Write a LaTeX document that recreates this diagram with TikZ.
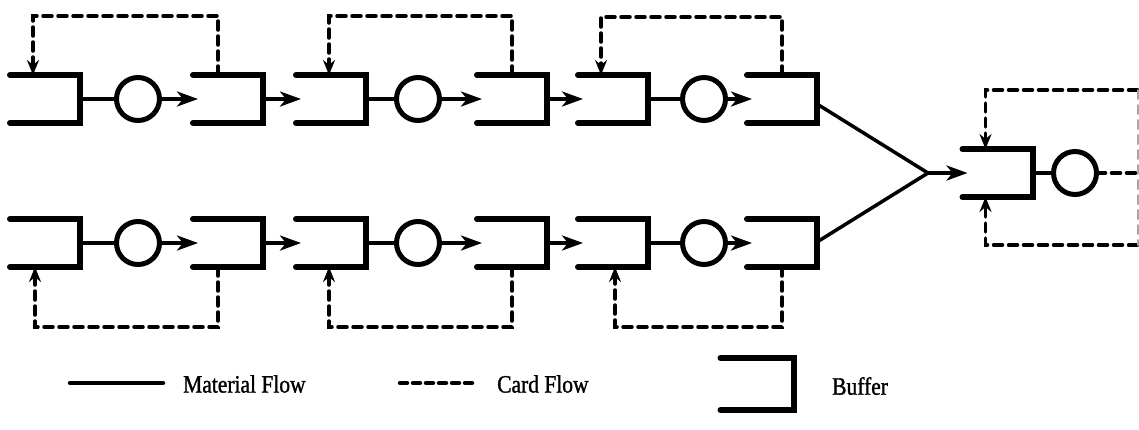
\documentclass[tikz,border=0pt]{standalone}
\usepackage{fontspec}
\setmainfont{Liberation Serif}
\newfontfamily\legfont[FakeBold=1.2,FakeStretch=0.86]{Liberation Serif}
\usetikzlibrary{arrows.meta,calc}
\begin{document}
\begin{tikzpicture}[x=1pt,y=-1pt,
  bufnode/.style={minimum width=70pt,minimum height=48pt,inner sep=0pt,outer sep=0pt},
  buf/.style={line width=6pt,line cap=round,line join=miter},
  machine/.style={circle,draw,line width=5pt,minimum size=43pt,inner sep=0pt,outer sep=0pt},
  link/.style={line width=3.2pt},
  mat/.style={line width=3.5pt,-{Stealth[length=21pt,width=15pt,inset=6pt]}},
  card/.style={line width=3.5pt,dash pattern=on 9pt off 6pt,line cap=round},
  cardarrow/.style={card,-{Stealth[length=15pt,width=12pt,inset=5pt]}},
  legtext/.style={anchor=west,inner sep=0pt,font=\legfont\fontsize{25}{29}\selectfont}
]
\useasboundingbox (0,0) rectangle (1139,429);

% ---------- buffers and machines ----------
\foreach \r/\y in {T/99,B/243}{
  \node[bufnode] (\r11) at (45,\y) {};
  \node[machine] (\r C1) at (138,\y) {};
  \node[bufnode] (\r12) at (228,\y) {};
  \node[bufnode] (\r21) at (331,\y) {};
  \node[machine] (\r C2) at (418,\y) {};
  \node[bufnode] (\r22) at (512,\y) {};
  \node[bufnode] (\r31) at (613,\y) {};
  \node[machine] (\r C3) at (704,\y) {};
  \node[bufnode] (\r32) at (782,\y) {};
  \foreach \b in {11,12,21,22,31,32}{
    \draw[buf] (\r\b.north west) -- (\r\b.north east) -- (\r\b.south east) -- (\r\b.south west);
  }
  \foreach \u in {1,2,3}{
    \draw[link] (\r\u1.east) -- (\r C\u.west);
    \draw[mat] (\r C\u.east) -- ([xshift=5pt]\r\u2.west);
  }
  \draw[mat] (\r12.east) -- ([xshift=5pt]\r21.west);
  \draw[mat] (\r22.east) -- ([xshift=5pt]\r31.west);
}

% final stage
\node[bufnode] (F) at (997.5,173) {};
\node[machine] (FC) at (1075,173) {};
\draw[buf] (F.north west) -- (F.north east) -- (F.south east) -- (F.south west);
\draw[link] (F.east) -- (FC.west);
\coordinate (M) at (928,173);
\draw[line width=3.5pt] ([yshift=-5pt]T32.east) -- (M);
\draw[line width=3.5pt] ([yshift=1pt]B32.east) -- (M);
\draw[mat] (M) -- ([xshift=5pt]F.west);

% ---------- card flow, top row ----------
\draw[cardarrow] ([xshift=25pt]T12.north west) -- ++(0,-59) -| ([xshift=23pt]T11.north west);
\draw[cardarrow] ([xshift=35pt]T22.north west) -- ++(0,-59) -| ([xshift=33pt]T21.north west);
\draw[cardarrow] ([xshift=35pt]T32.north west) -- ++(0,-58) -| ([xshift=23pt]T31.north west);
% ---------- card flow, bottom row ----------
\draw[cardarrow] ([xshift=25pt]B12.south west) -- ++(0,60) -| ([xshift=25pt]B11.south west);
\draw[cardarrow] ([xshift=35pt]B22.south west) -- ++(0,60) -| ([xshift=33pt]B21.south west);
\draw[cardarrow] ([xshift=35pt]B32.south west) -- ++(0,60) -| ([xshift=37pt]B31.south west);

% ---------- card flow, final stage ----------
\coordinate (E) at (1139,173);
\coordinate (TR) at (1137.5,90);
\coordinate (BR) at (1137.5,245);
\draw[card] (FC.east) -- (E);
\draw[cardarrow] (TR) -| ([xshift=23pt]F.north west);
\draw[cardarrow] (BR) -| ([xshift=23pt]F.south west);
\draw[card,draw=black!35,line width=2pt] (TR) -- (BR);

% ---------- legend ----------
\coordinate (L1a) at (70,383);
\coordinate (L1b) at (163,383);
\draw[line width=4.5pt,line cap=round] (L1a) -- (L1b);
\node[legtext] (LT1) at (183,384) {Material Flow};
\coordinate (L2a) at (400,383);
\coordinate (L2b) at (472,383);
\draw[line width=4.5pt,line cap=round,dash pattern=on 7pt off 6pt] (L2a) -- (L2b);
\node[legtext] (LT2) at (497,384) {Card Flow};
\node[bufnode,minimum width=73pt,minimum height=52pt] (LB) at (757,384) {};
\draw[buf] (LB.north west) -- (LB.north east) -- (LB.south east) -- (LB.south west);
\node[legtext] (LT3) at (832,386) {Buffer};
\end{tikzpicture}
\end{document}
